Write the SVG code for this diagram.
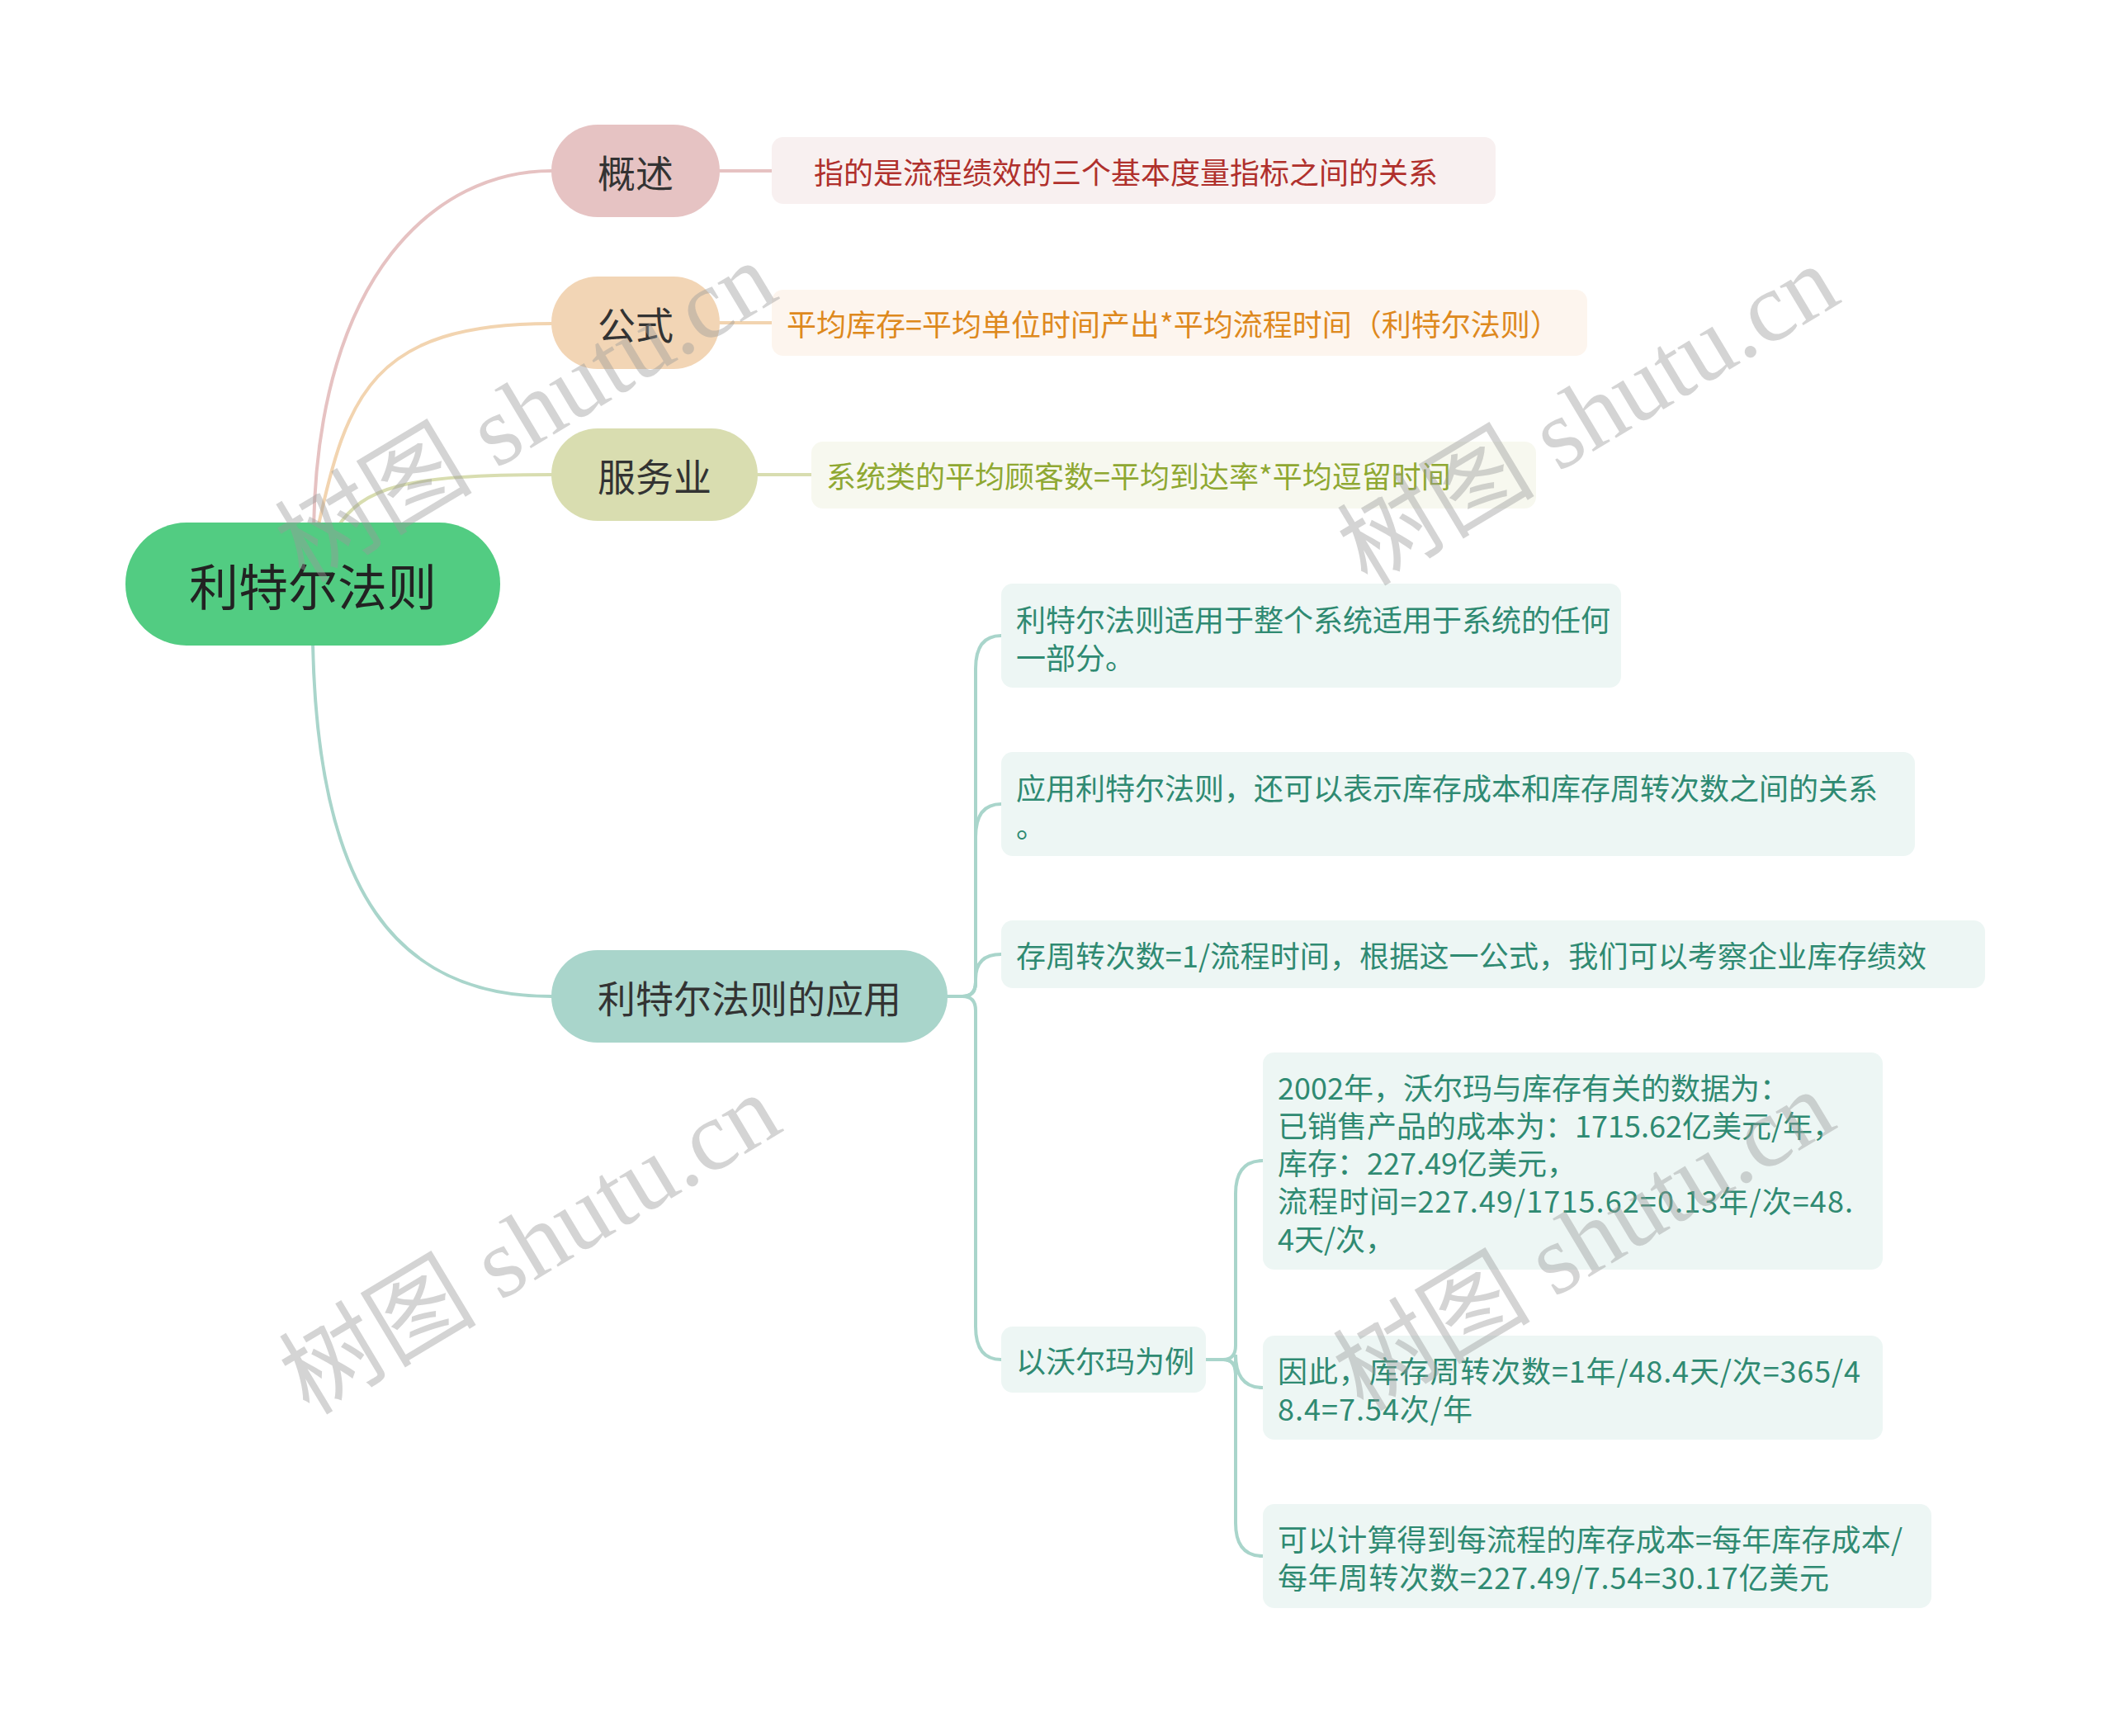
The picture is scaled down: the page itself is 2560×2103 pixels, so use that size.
<svg xmlns="http://www.w3.org/2000/svg" width="2560" height="2103" viewBox="0 0 2560 2103">
<style>
.node text{font-family:"Noto Sans CJK SC","Liberation Sans",sans-serif;dominant-baseline:central}
.t1{font-size:46px;fill:#333333;text-anchor:middle}
.t0{font-size:60px;fill:#222222;text-anchor:middle}
.lf{font-size:36px}
.app{fill:#edf6f4}
.appt{fill:#2f8a72}
.conn path{fill:none;stroke-width:4;stroke-linecap:round}
.wm{font-family:"Liberation Serif","Noto Sans CJK SC",serif;font-size:120px;fill:#9a9a9a;opacity:0.42}
</style>
<rect width="2560" height="2103" fill="#ffffff"/>
<g class="conn" id="connectors">
<path d="M380,640 C385,330 530,207 668,207" stroke="#e6c2c2"/>
<path d="M385,640 C420,480 450,392 668,392" stroke="#f2d4b0"/>
<path d="M408,640 C440,590 490,575 668,575" stroke="#d8ddb0"/>
<path d="M379,780 C385,1080 480,1207 668,1207" stroke="#a9d5cb"/>
<path d="M872,207 H935" stroke="#e6c2c2"/>
<path d="M872,391 H935" stroke="#f2d4b0"/>
<path d="M918,575 H983" stroke="#d8ddb0"/>
<g stroke="#a9d5cb">
<path d="M1148,1207 H1166 Q1182,1207 1182,1190 V810 Q1182,770 1213,770"/>
<path d="M1148,1207 H1166 Q1182,1207 1182,1190 V1014 Q1182,974 1213,974"/>
<path d="M1148,1207 H1166 Q1182,1207 1182,1190 V1186 Q1182,1156 1213,1156"/>
<path d="M1148,1207 H1166 Q1182,1207 1182,1224 V1607 Q1182,1647 1213,1647"/>
<path d="M1461,1647 H1482 Q1497,1647 1497,1630 V1446 Q1497,1406 1530,1406"/>
<path d="M1461,1647 H1482 Q1497,1647 1497,1664 V1641 Q1497,1681 1530,1681"/>
<path d="M1461,1647 H1482 Q1497,1647 1497,1664 V1845 Q1497,1885 1530,1885"/>
</g>
</g>
<g class="node" id="root">
<rect x="152" y="633" width="454" height="149" rx="74" fill="#52cc82"/>
<text class="t0" x="379" y="707">利特尔法则</text>
</g>
<g class="node" id="n-gaishu">
<rect x="668" y="151" width="204" height="112" rx="56" fill="#e6c3c3"/>
<text class="t1" x="770" y="207">概述</text>
</g>
<g class="node" id="n-gongshi">
<rect x="668" y="335" width="204" height="112" rx="56" fill="#f2d5b5"/>
<text class="t1" x="770" y="391">公式</text>
</g>
<g class="node" id="n-fuwu">
<rect x="668" y="519" width="250" height="112" rx="56" fill="#d9ddb0"/>
<text class="t1" x="793" y="575">服务业</text>
</g>
<g class="node" id="n-app">
<rect x="668" y="1151" width="480" height="112" rx="56" fill="#a9d5cb"/>
<text class="t1" x="908" y="1207">利特尔法则的应用</text>
</g>
<g class="node" id="l-gaishu">
<rect x="935" y="166" width="877" height="81" rx="14" fill="#f8f0f0"/>
<text class="lf" x="986" y="207" fill="#b0302c">指的是流程绩效的三个基本度量指标之间的关系</text>
</g>
<g class="node" id="l-gongshi">
<rect x="935" y="351" width="988" height="80" rx="14" fill="#fdf5ee"/>
<text class="lf" x="953" y="391" fill="#de891d">平均库存=平均单位时间产出*平均流程时间（利特尔法则）</text>
</g>
<g class="node" id="l-fuwu">
<rect x="983" y="535" width="878" height="81" rx="14" fill="#f7f8ef"/>
<text class="lf" x="1001" y="575" fill="#8fa832">系统类的平均顾客数=平均到达率*平均逗留时间</text>
</g>
<g class="node" id="a1">
<rect class="app" x="1213" y="707" width="751" height="126" rx="14"/>
<text class="lf appt" x="1231" y="749">利特尔法则适用于整个系统适用于系统的任何</text>
<text class="lf appt" x="1231" y="795">一部分。</text>
</g>
<g class="node" id="a2">
<rect class="app" x="1213" y="911" width="1107" height="126" rx="14"/>
<text class="lf appt" x="1231" y="953">应用利特尔法则，还可以表示库存成本和库存周转次数之间的关系</text>
<text class="lf appt" x="1231" y="999">。</text>
</g>
<g class="node" id="a3">
<rect class="app" x="1213" y="1115" width="1192" height="82" rx="14"/>
<text class="lf appt" x="1231" y="1156" textLength="1103" lengthAdjust="spacing">存周转次数=1/流程时间，根据这一公式，我们可以考察企业库存绩效</text>
</g>
<g class="node" id="a4">
<rect class="app" x="1213" y="1607" width="248" height="80" rx="14"/>
<text class="lf appt" x="1231" y="1647">以沃尔玛为例</text>
</g>
<g class="node" id="s1">
<rect class="app" x="1530" y="1275" width="751" height="263" rx="14"/>
<text class="lf appt" x="1548" y="1316">2002年，沃尔玛与库存有关的数据为：</text>
<text class="lf appt" x="1548" y="1362">已销售产品的成本为：1715.62亿美元/年，</text>
<text class="lf appt" x="1548" y="1407">库存：227.49亿美元，</text>
<text class="lf appt" x="1548" y="1453" textLength="697" lengthAdjust="spacing">流程时间=227.49/1715.62=0.13年/次=48.</text>
<text class="lf appt" x="1548" y="1499">4天/次，</text>
</g>
<g class="node" id="s2">
<rect class="app" x="1530" y="1618" width="751" height="126" rx="14"/>
<text class="lf appt" x="1548" y="1659" textLength="706" lengthAdjust="spacing">因此，库存周转次数=1年/48.4天/次=365/4</text>
<text class="lf appt" x="1548" y="1705" textLength="236" lengthAdjust="spacing">8.4=7.54次/年</text>
</g>
<g class="node" id="s3">
<rect class="app" x="1530" y="1822" width="810" height="126" rx="14"/>
<text class="lf appt" x="1548" y="1863" textLength="757" lengthAdjust="spacing">可以计算得到每流程的库存成本=每年库存成本/</text>
<text class="lf appt" x="1548" y="1909" textLength="668" lengthAdjust="spacing">每年周转次数=227.49/7.54=30.17亿美元</text>
</g>
<g id="watermarks">
<text class="wm" text-anchor="middle" transform="translate(658,534) rotate(-31)">树图 shutu.cn</text>
<text class="wm" text-anchor="middle" transform="translate(1945,538) rotate(-31)">树图 shutu.cn</text>
<text class="wm" text-anchor="middle" transform="translate(663,1542) rotate(-31)">树图 shutu.cn</text>
<text class="wm" text-anchor="middle" transform="translate(1940,1538) rotate(-31)">树图 shutu.cn</text>
</g>
</svg>
